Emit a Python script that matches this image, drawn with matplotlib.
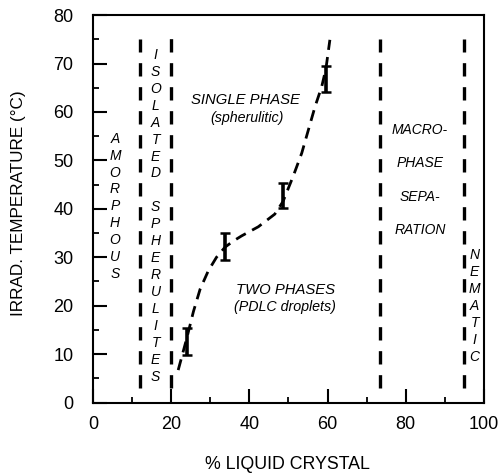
import matplotlib
matplotlib.use("Agg")
import matplotlib.pyplot as plt
from matplotlib.ticker import MultipleLocator

# measured points with error bars
lc_pct = [24.0, 33.8, 48.7, 59.6]
temp = [12.6, 32.2, 42.7, 66.8]
temp_err = [2.8, 2.8, 2.6, 2.6]

# dashed guide curve
curve_x = [21.8, 24.0, 25.7, 27.4, 29.5, 31.6, 33.8, 36.0, 38.0, 42.3,
           46.5, 48.6, 51.2, 53.4, 55.1, 56.8, 58.5, 59.6, 60.6]
curve_y = [6.7, 13.3, 18.8, 23.4, 27.2, 30.0, 32.1, 33.4, 34.4, 36.3,
           38.9, 41.5, 46.7, 51.5, 56.3, 61.1, 65.2, 69.0, 74.9]

# phase boundaries (x, y_bottom, y_top)
bound_x = [12, 20, 73.5, 95]
bound_lo = [3, 3, 3, 3]
bound_hi = [75, 77, 75, 75]

vert_labels = ["AMORPHOUS", "ISOLATED SPHERULITES", "NEMATIC"]
vert_x = [5.6, 16.0, 97.6]
vert_top = [54.5, 71.8, 30.5]

macro_lines = ["MACRO-", "PHASE", "SEPA-", "RATION"]
macro_y = [56.3, 49.4, 42.4, 35.6]

plt.rcParams["font.family"] = ["Liberation Sans", "DejaVu Sans"]

fig = plt.figure(figsize=(4.98, 4.73), dpi=100)
ax = fig.add_axes([0.1867, 0.149, 0.785, 0.819])

for x, lo, hi in zip(bound_x, bound_lo, bound_hi):
    ax.plot([x, x], [lo, hi], color="black", lw=2.4, dashes=(4, 3.2))

ax.plot(curve_x, curve_y, color="black", lw=2.0, dashes=(4, 2.6))
ax.errorbar(lc_pct, temp, yerr=temp_err, fmt="none", ecolor="black",
            elinewidth=2.6, capsize=3.5, capthick=1.8)

# stacked vertical words, one letter per line
step = 3.5
for word, x, top in zip(vert_labels, vert_x, vert_top):
    for i, ch in enumerate(word):
        if ch == " ":
            continue
        ax.text(x, top - i * step, ch, ha="center", va="center",
                fontsize=10, style="italic")

ax.text(38.9, 62.5, "SINGLE PHASE", ha="center", va="center",
        fontsize=10.7, style="italic")
ax.text(39.5, 58.8, "(spherulitic)", ha="center", va="center",
        fontsize=10.3, style="italic")
ax.text(49.2, 23.2, "TWO PHASES", ha="center", va="center",
        fontsize=10.7, style="italic")
ax.text(49.2, 19.7, "(PDLC droplets)", ha="center", va="center",
        fontsize=10.3, style="italic")
for txt, y in zip(macro_lines, macro_y):
    ax.text(83.6, y, txt, ha="center", va="center", fontsize=10,
            style="italic")

ax.set_xlim(0, 100)
ax.set_ylim(0, 80)
ax.xaxis.set_major_locator(MultipleLocator(20))
ax.xaxis.set_minor_locator(MultipleLocator(10))
ax.yaxis.set_major_locator(MultipleLocator(10))
ax.yaxis.set_minor_locator(MultipleLocator(5))
ax.tick_params(which="major", direction="in", length=10, width=1.5,
               labelsize=13)
ax.tick_params(axis="x", which="major", pad=10)
ax.tick_params(axis="y", which="major", pad=14)
ax.tick_params(which="minor", direction="in", length=4.5, width=1.3)
for s in ax.spines.values():
    s.set_linewidth(1.5)

# axis titles placed by hand so they sit where the original has them
fig.text(0.577, 0.017, "% LIQUID CRYSTAL", ha="center", va="center",
         fontsize=12.8)
fig.text(0.037, 0.57, "IRRAD. TEMPERATURE (°C)", ha="center", va="center",
         rotation=90, fontsize=12.3)

fig.savefig("out.png", dpi=100)
